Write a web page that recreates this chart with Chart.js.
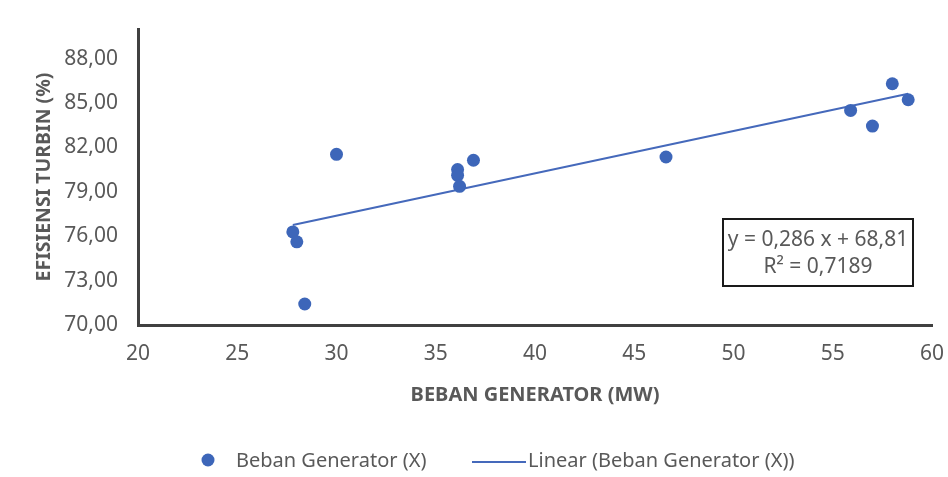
<!DOCTYPE html>
<html>
<head>
<meta charset="utf-8">
<script src="https://cdn.jsdelivr.net/npm/chart.js@4.4.1/dist/chart.umd.min.js"></script>
<style>
  html, body { margin: 0; padding: 0; background: #fff; }
  #wrap { width: 948px; height: 477px; }
</style>
</head>
<body>
<div id="wrap"><canvas id="effChart"></canvas></div>
<script>
const bebanMW = [30.0, 27.8, 28.0, 28.4, 36.1, 36.1, 36.2, 36.9, 46.6, 55.9, 57.0, 58.0, 58.8];
const efisiensi = [81.53, 76.29, 75.62, 71.42, 80.50, 80.11, 79.37, 81.13, 81.35, 84.50, 83.44, 86.30, 85.22];

// trendline end points (Excel linear fit)
const trendX = [27.8, 58.8];
const trendY = [76.76, 85.63];

const xTicks = [20, 25, 30, 35, 40, 45, 50, 55, 60];
const yTicks = [70, 73, 76, 79, 82, 85, 88];

const seriesLabel = 'Beban Generator (X)';
const trendLabel = 'Linear (Beban Generator (X))';
const equationLines = ['y = 0,286 x + 68,81', 'R\u00B2 = 0,7189'];

const grey = '#595959';
const dotColor = '#3d66b9';
const lineColor = '#4569bb';
const font = "'Noto Sans', 'Open Sans', sans-serif";

const scatterPts = bebanMW.map((x, i) => ({ x: x, y: efisiensi[i] }));
const trendPts = trendX.map((x, i) => ({ x: x, y: trendY[i] }));

// stop Chart.js from reserving extra room for overhanging tick labels
function noOverhang(s) {
  s.paddingLeft = 0;
  s.paddingRight = 0;
  s.paddingTop = 0;
  s.paddingBottom = 0;
}

// legend + equation box, drawn by hand
const extras = {
  id: 'extras',
  afterDraw(chart) {
    const c = chart.ctx;
    const area = chart.chartArea;
    c.save();
    c.font = '20px ' + font;
    c.textBaseline = 'middle';

    // legend
    c.beginPath();
    c.fillStyle = dotColor;
    c.arc(208, 460, 6.5, 0, Math.PI * 2);
    c.fill();
    c.fillStyle = grey;
    c.textAlign = 'left';
    c.fillText(seriesLabel, 236, 461);
    c.strokeStyle = lineColor;
    c.lineWidth = 2;
    c.beginPath();
    c.moveTo(472, 462);
    c.lineTo(526, 462);
    c.stroke();
    c.fillText(trendLabel, 528, 461);

    // equation box
    const bx = area.right - 209, by = area.top + 190, bw = 190, bh = 67;
    c.strokeStyle = '#1a1a1a';
    c.lineWidth = 2;
    c.strokeRect(bx, by, bw, bh);
    c.font = '21px ' + font;
    c.textAlign = 'center';
    c.fillText(equationLines[0], bx + bw / 2, by + 21);
    c.fillText(equationLines[1], bx + bw / 2, by + 48);
    c.restore();
  }
};

const ctx = document.getElementById('effChart').getContext('2d');

const effChart = new Chart(ctx, {
  type: 'scatter',
  data: {
    datasets: [{
      label: seriesLabel,
      data: scatterPts,
      backgroundColor: dotColor,
      borderColor: dotColor,
      pointRadius: 6.5,
      pointBorderWidth: 0,
      order: 1
    }, {
      type: 'line',
      label: trendLabel,
      data: trendPts,
      borderColor: lineColor,
      borderWidth: 2,
      pointRadius: 0,
      fill: false,
      order: 2
    }]
  },
  options: {
    responsive: true,
    maintainAspectRatio: false,
    animation: false,
    layout: {
      padding: { top: 29, right: 16, bottom: 70, left: 33 }
    },
    plugins: {
      legend: { display: false },
      tooltip: { enabled: false }
    },
    scales: {
      x: {
        type: 'linear',
        min: 20,
        max: 60,
        afterBuildTicks: s => { s.ticks = xTicks.map(v => ({ value: v })); },
        afterFit: s => { s.height = 82; noOverhang(s); },
        grid: { display: false, drawTicks: false },
        border: { display: true, color: '#404040', width: 3 },
        ticks: {
          color: grey,
          padding: 16,
          font: { family: font, size: 21 }
        },
        title: {
          display: true,
          text: 'BEBAN GENERATOR (MW)',
          color: grey,
          padding: 0,
          font: { family: font, size: 20, weight: 'bold' }
        }
      },
      y: {
        min: 70,
        max: 90,
        afterBuildTicks: s => { s.ticks = yTicks.map(v => ({ value: v })); },
        afterFit: s => { s.width = 105; noOverhang(s); },
        grid: { display: false, drawTicks: false },
        border: { display: true, color: '#404040', width: 3 },
        ticks: {
          color: grey,
          padding: 20,
          font: { family: font, size: 21 },
          callback: v => v.toFixed(2).replace('.', ',')
        },
        title: {
          display: true,
          text: 'EFISIENSI TURBIN (%)',
          color: grey,
          padding: 0,
          font: { family: font, size: 19.5, weight: 'bold' }
        }
      }
    }
  },
  plugins: [extras]
});
</script>
</body>
</html>
